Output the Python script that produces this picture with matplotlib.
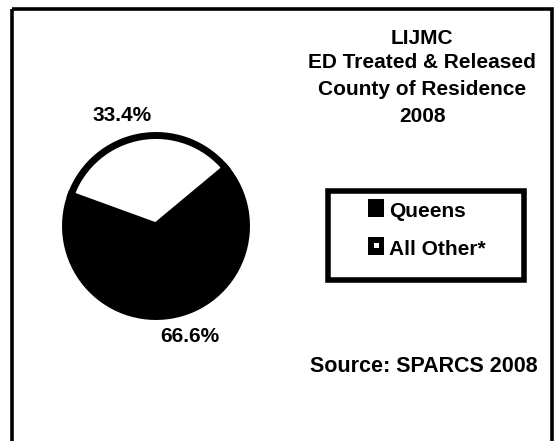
import matplotlib
matplotlib.use("Agg")
import matplotlib.pyplot as plt
from matplotlib.patches import Rectangle
import numpy as np

# ---- data ----
categories = ["Queens", "All Other*"]
values = [66.6, 33.4]
colors = ["#000000", "#ffffff"]
title_lines = ["LIJMC", "ED Treated & Released", "County of Residence", "2008"]
source_text = "Source: SPARCS 2008"

plt.rcParams['font.family'] = ['Liberation Sans', 'DejaVu Sans']
plt.rcParams['font.weight'] = 'bold'

W, H = 556, 441
fig = plt.figure(figsize=(W / 100, H / 100), dpi=100)
fig.patch.set_facecolor('white')

# background axes in pixel coordinates
bg = fig.add_axes([0, 0, 1, 1])
bg.set_xlim(0, W)
bg.set_ylim(H, 0)
bg.axis('off')

# outer border (bottom runs off the image)
bg.add_patch(Rectangle((11.5, 8.5), 540, 460, fill=False, edgecolor='black',
                       linewidth=2.6, clip_on=False))

# pie axes
cx, cy, r = 156, 226, 90.5
pax = fig.add_axes([(cx - r) / W, (H - cy - r) / H, 2 * r / W, 2 * r / H])
wedges, _ = pax.pie(values, colors=colors, startangle=160, counterclock=True,
                    wedgeprops=dict(edgecolor='black', linewidth=5.0, clip_on=False,
                                    joinstyle='miter'))
pax.set_xlim(-1, 1)
pax.set_ylim(-1, 1)
pax.set_aspect('equal')
pax.axis('off')

# percentage labels
for w, v in zip(wedges, values):
    mid = np.deg2rad((w.theta1 + w.theta2) / 2 + 7)
    pax.text(1.28 * np.cos(mid), 1.28 * np.sin(mid), f"{v:.1f}%",
             ha='center', va='center', fontsize=15, fontweight='bold')

# title
tx = 422
baselines = [43.5, 68.5, 95, 122]
for line, yb in zip(title_lines, baselines):
    bg.text(tx, yb, line, ha='center', va='baseline', fontsize=15, fontweight='bold')

# legend box
bg.add_patch(Rectangle((328, 190.5), 196, 89, fill=False, edgecolor='black',
                       linewidth=4.0))
leg_y = [217, 255]
for name, col, yb in zip(categories, colors, leg_y):
    bg.add_patch(Rectangle((368, yb - 18.5), 16, 18.5, facecolor='black', edgecolor='none'))
    if col.lower() != '#000000':
        bg.add_patch(Rectangle((374, yb - 12), 5, 5, facecolor=col, edgecolor='none'))
    bg.text(389, yb, name, ha='left', va='baseline', fontsize=15, fontweight='bold')

# source
bg.text(310, 372, source_text, ha='left', va='baseline', fontsize=15.5, fontweight='bold')

fig.savefig('out.png', dpi=100, facecolor='white')
